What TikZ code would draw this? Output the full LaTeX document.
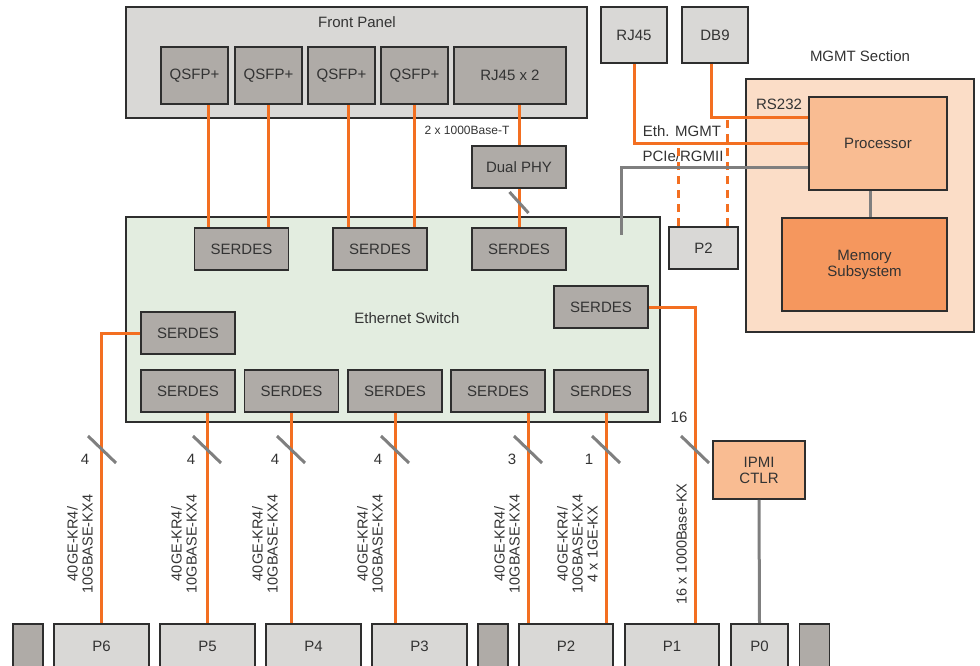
\documentclass[tikz,border=0pt]{standalone}
\usepackage{fontspec}
\setmainfont{Liberation Sans}
\definecolor{orng}{HTML}{F36F21}
\definecolor{wire}{HTML}{7F7F7F}
\definecolor{chip}{HTML}{AFABA7}
\definecolor{pale}{HTML}{D9D8D6}
\definecolor{swgreen}{HTML}{E3EDE0}
\definecolor{mgmtbg}{HTML}{FBDDC7}
\definecolor{procbg}{HTML}{F9BC92}
\definecolor{membg}{HTML}{F5975E}
\definecolor{edge}{HTML}{2E2E2E}
\definecolor{txt}{HTML}{333333}

\begin{document}
\begin{tikzpicture}[x=1pt, y=-1pt, font=\fontsize{15}{16}\selectfont, text=txt,
  box/.style={draw=edge, line width=1.8pt, inner sep=0pt, align=center},
  chipbox/.style={box, fill=chip, minimum width=94pt, minimum height=42pt},
  palebox/.style={box, fill=pale, minimum height=42pt},
  link/.style={draw=orng, line width=3pt},
  dlink/.style={link, dash pattern=on 8pt off 6pt},
  gline/.style={draw=wire, line width=3pt},
  vlbl/.style={rotate=90, anchor=south, align=center, inner sep=0pt, font=\fontsize{14.5}{15}\selectfont}]

\clip (0,0) rectangle (980,666);

% Передняя панель
\node[box, fill=pale, minimum width=461pt, minimum height=111pt] (front) at (356.5,62.5) {};
\node (fronttitle) at (357,22) {Front Panel};
\foreach \n/\x in {1/194.5, 2/268.5, 3/341.5, 4/414.5}
    \node[chipbox, minimum width=67pt, minimum height=57pt] (qsfp\n) at (\x,75.5) {QSFP+};
\node[chipbox, minimum width=112pt, minimum height=57pt] (rj45x2) at (510,75.5) {RJ45 x 2};
\node[chipbox] (phy) at (519,167) {Dual PHY};
\node[font=\fontsize{12}{13}\selectfont] (phylbl) at (467,130) {2 x 1000Base-T};

% Коммутатор
\node[box, fill=swgreen, minimum width=534pt, minimum height=205pt] (switch) at (393,319.5) {};
\node (swtitle) at (407,318) {Ethernet Switch};
\foreach \n/\x in {1/241.5, 2/380, 3/519}
    \node[chipbox] (sdt\n) at (\x,249) {SERDES};
\node[chipbox] (sdr) at (601,307) {SERDES};
\node[chipbox] (sdl) at (188,333) {SERDES};
\foreach \n/\x in {1/188, 2/291.5, 3/395, 4/498, 5/601}
    \node[chipbox] (sdb\n) at (\x,391) {SERDES};

% Секция управления
\node[box, fill=pale, minimum width=66pt, minimum height=56pt] (rj45) at (634,35) {RJ45};
\node[box, fill=pale, minimum width=66pt, minimum height=56pt] (db9) at (715,35) {DB9};
\node (mgmttitle) at (860,56) {MGMT Section};
\node[box, fill=mgmtbg, minimum width=228pt, minimum height=253pt] (mgmt) at (860,205.5) {};
\node[box, fill=procbg, minimum width=138pt, minimum height=93pt] (proc) at (878,143.5) {Processor};
\node[box, fill=membg, minimum width=165pt, minimum height=93pt] (mem) at (864.5,264.5) {Memory\\Subsystem};
\node[palebox, minimum width=69pt] (p2m) at (703.5,248) {P2};
\node (rslbl) at (779,104) {RS232};
\node (ethlbl) at (682,131) {Eth. MGMT};
\node (pcielbl) at (683,156) {PCIe/RGMII};
\coordinate (rs) at ([yshift=25.5pt]proc.west);
\coordinate (pcie) at (621,235);

% IPMI
\node[box, fill=procbg, minimum width=92pt, minimum height=58pt] (ipmi) at (759,470) {IPMI\\CTLR};

% Порты
\foreach \n/\x/\w in {6/101.5/95, 5/207.5/95, 4/313.5/95, 3/419.5/95, 2/566/94, 1/672/94, 0/759.5/57}
    \node[palebox, minimum width=\w pt, minimum height=44pt] (p\n) at (\x,646) {P\n};
\foreach \n/\x in {1/28, 2/493, 3/814.5}
    \node[box, fill=chip, minimum width=30pt, minimum height=44pt] (stub\n) at (\x,646) {};

% Связи сверху
\foreach \a/\b/\s in {qsfp1/sdt1/13.5, qsfp2/sdt1/0, qsfp3/sdt2/6.5, qsfp4/sdt2/0}
    \draw[link] ([xshift=\s pt]\a.south) coordinate (t) -- (t |- \b.north);
\draw[link] (phy.north) -- (phy.north |- rj45x2.south);
\draw[link] (phy.south) -- (sdt3.north);
\draw[link] (rj45.south) |- (proc.west);
\draw[link] ([xshift=-4pt]db9.south) |- (rs);
\draw[dlink] ([xshift=-25.5pt]p2m.north) coordinate (t) -- (t |- proc.west);
\draw[dlink] ([xshift=23.5pt]p2m.north) coordinate (t) -- (t |- rs);
\draw[gline] ([yshift=-24.5pt]proc.west) -| (pcie);
\draw[gline] ([xshift=-8pt]proc.south) coordinate (t) -- (t |- mem.north);

% Связи снизу
\draw[link] (sdl.west) -| (p6.north);
\draw[link] (p5.north) -- (p5.north |- sdb1.south);
\draw[link] (sdb2.south) -- (sdb2.south |- p4.north);
\draw[link] (sdb3.south) -- (sdb3.south |- p3.north);
\draw[link] ([xshift=30pt]sdb4.south) coordinate (t) -- (t |- p2.north);
\draw[link] ([xshift=5pt]sdb5.south) coordinate (t) -- (t |- p2.north);
\draw[link] (sdr.east) -| ([xshift=23pt]p1.north);
\draw[gline] (ipmi.south) -- (p0.north);

% Отметки числа линий
\foreach \x in {102, 207, 291, 395, 528, 606, 695}
    \draw[gline] (\x,449.5) ++(-14,-13.5) -- ++(28,27);
\draw[gline] (519,202.5) ++(-9.5,-10.5) -- ++(19,21);
\foreach \x/\c in {85/4, 191/4, 275/4, 378/4, 512/3, 589/1}
    \node (n\x) at (\x,459) {\c};
\node (n16) at (679,417) {16};

% Подписи
\foreach \x in {93, 197, 278, 383, 520}
    \node[vlbl] (k\x) at (\x,544) {40GE-KR4/\\10GBASE-KX4};
\node[vlbl] (k598) at (598,544) {40GE-KR4/\\10GBASE-KX4\\4 x 1GE-KX};
\node[vlbl] (k687) at (687,544) {16 x 1000Base-KX};
\end{tikzpicture}
\end{document}
